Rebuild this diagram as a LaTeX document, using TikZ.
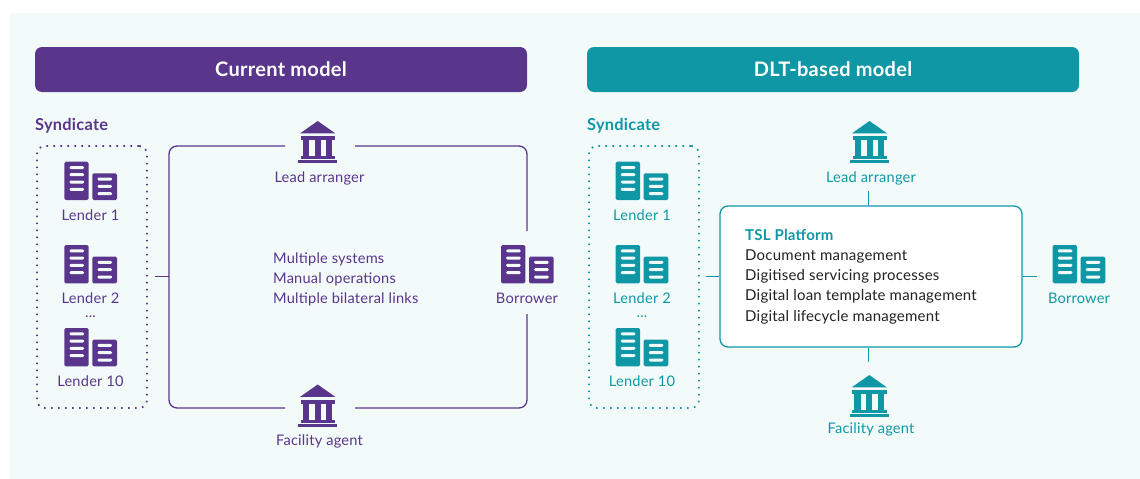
\documentclass[tikz,border=0pt]{standalone}
\usepackage{fontspec}
\setmainfont{Lato}[LetterSpace=1.5]
\definecolor{tslbg}{HTML}{F2FBFA}
\definecolor{tslpurple}{HTML}{5A358C}
\definecolor{tslteal}{HTML}{1097A6}
\definecolor{tslblack}{HTML}{222222}
\tikzset{
    slot/.style={inner sep=0, outer sep=0},
    header/.style={fill=#1, rounded corners=7pt, inner sep=0, minimum width=492, minimum height=45, text=white, font=\fontsize{20}{22}\selectfont\bfseries},
    syndbox/.style={draw=#1, rounded corners=8pt, line width=1.7pt, dash pattern=on 1.7pt off 5.3pt, inner sep=0, minimum width=110, minimum height=262},
    tag/.style={text=#1, inner sep=0, yshift=-1pt, font=\fontsize{14.6}{16}\selectfont},
    synd/.style={text=#1, inner sep=0, anchor=west, yshift=-1pt, font=\fontsize{16.4}{18}\selectfont\bfseries},
    link/.style={draw=#1, line width=1.3pt},
    pics/servers/.style={code={
        \fill[#1, rounded corners=1.5pt] (-26.4,-19) rectangle (-2,19.3);
        \fill[#1, rounded corners=1.5pt] (1.6,-7.4) rectangle (26.3,19.3);
        \fill[tslbg, rounded corners=1.2pt] (-21.2,-14.6) rectangle (-6.7,-11.6);
        \fill[tslbg, rounded corners=1.2pt] (-21.2,-7.5) rectangle (-6.7,-4.5);
        \fill[tslbg, rounded corners=1.2pt] (-21.2,-0.2) rectangle (-6.7,2.8);
        \fill[tslbg, rounded corners=1.2pt] (-21.2,7.1) rectangle (-6.7,10.1);
        \fill[tslbg, rounded corners=1.2pt] (6.8,-3.2) rectangle (21.3,-0.2);
        \fill[tslbg, rounded corners=1.2pt] (6.8,4.1) rectangle (21.3,7.1);
        \fill[tslbg, rounded corners=1.2pt] (6.8,11.5) rectangle (21.3,14.5);
    }},
    pics/bank/.style={code={
        \fill[#1] (0,-21) -- (17.5,-8.7) -- (-17.5,-8.7) -- cycle;
        \fill[#1] (-17,-6) rectangle (17.3,-2);
        \fill[#1] (-15,-2) rectangle (-8.7,14);
        \fill[#1] (-3,-2) rectangle (3,14);
        \fill[#1] (8.7,-2) rectangle (14.6,14);
        \fill[#1] (-17,14) rectangle (17.3,17);
        \fill[#1] (-19.7,18) rectangle (19.3,21);
    }}
}
\begin{document}
\begin{tikzpicture}[x=1pt, y=-1pt]
    \useasboundingbox (0, 0) rectangle (1140, 479);
    \fill[tslbg] (10, 13) rectangle (1140, 479);

    \node[header=tslpurple, text depth=1pt] (currentHead) at (281, 69.5) {Current model};
    \node[header=tslteal, text depth=1pt] (dltHead) at (833, 69.5) {DLT-based model};

    \node[synd=tslpurple] (syndTextL) at (35, 125) {Syndicate};
    \node[synd=tslteal] (syndTextR) at (587, 125) {Syndicate};
    \node[syndbox=tslpurple] (syndL) at (92, 277) {};
    \node[syndbox=tslteal] (syndR) at (644, 277) {};

    \pic at (90.7, 180.7) {servers=tslpurple};
    \node[tag=tslpurple] (lender1L) at (90.5, 214) {Lender 1};
    \pic at (90.7, 264) {servers=tslpurple};
    \node[tag=tslpurple] (lender2L) at (90.5, 297) {Lender 2};
    \node[tag=tslpurple] (dotsL) at (90.5, 316) {...};
    \pic at (90.7, 347) {servers=tslpurple};
    \node[tag=tslpurple] (lender10L) at (90.5, 380) {Lender 10};

    \pic at (642, 180.7) {servers=tslteal};
    \node[tag=tslteal] (lender1R) at (642, 214) {Lender 1};
    \pic at (642, 264) {servers=tslteal};
    \node[tag=tslteal] (lender2R) at (642, 297) {Lender 2};
    \node[tag=tslteal] (dotsR) at (642, 316) {...};
    \pic at (642, 347) {servers=tslteal};
    \node[tag=tslteal] (lender10R) at (642, 380) {Lender 10};

    \node[slot, minimum width=70, minimum height=42] (leadL) at (320, 142) {};
    \pic at (317.7, 142) {bank=tslpurple};
    \node[tag=tslpurple] (leadTextL) at (319.5, 177) {Lead arranger};
    \node[slot, minimum width=70, minimum height=42] (agentL) at (320, 405) {};
    \pic at (317.7, 405.5) {bank=tslpurple};
    \node[tag=tslpurple] (agentTextL) at (319.5, 440) {Facility agent};
    \node[slot, minimum width=60, minimum height=83] (borrowerL) at (527, 272.7) {};
    \pic at (527.4, 264) {servers=tslpurple};
    \node[tag=tslpurple] (borrowerTextL) at (527, 297) {Borrower};

    \node[tag=tslpurple, anchor=west] (systemsText) at (273, 258) {Multiple systems};
    \node[tag=tslpurple, anchor=west] (manualText) at (273, 278) {Manual operations};
    \node[tag=tslpurple, anchor=west] (bilateralText) at (273, 298) {Multiple bilateral links};

    \coordinate (cornerNW) at (169, 146);
    \coordinate (cornerSW) at (169, 408);
    \coordinate (cornerNE) at (527, 146);
    \coordinate (cornerSE) at (527, 408);
    \coordinate (frameW) at (169, 276.5);
    \draw[link=tslpurple, rounded corners=8pt] (leadL.west |- cornerNW) -- (cornerNW) -- (cornerSW) -- (agentL.west |- cornerSW);
    \draw[link=tslpurple, rounded corners=8pt] (leadL.east |- cornerNE) -- (cornerNE) -- (borrowerL.north);
    \draw[link=tslpurple, rounded corners=8pt] (agentL.east |- cornerSE) -- (cornerSE) -- (borrowerL.south);
    \draw[link=tslpurple, shorten <=7pt] (syndL.east |- frameW) -- (frameW);

    \node[draw=tslteal, line width=1.3pt, fill=white, rounded corners=8pt, inner sep=0, minimum width=302, minimum height=141] (tslBox) at (871, 276.5) {};
    \node[synd=tslteal, font=\fontsize{15}{17}\selectfont\bfseries] (tslTitle) at (745, 233.5) {TSL Platform};
    \node[tag=tslblack, anchor=west, font=\fontsize{15}{17}\selectfont] (docText) at (745, 255) {Document management};
    \node[tag=tslblack, anchor=west, font=\fontsize{15}{17}\selectfont] (servicingText) at (745, 275) {Digitised servicing processes};
    \node[tag=tslblack, anchor=west, font=\fontsize{15}{17}\selectfont] (templateText) at (745, 295) {Digital loan template management};
    \node[tag=tslblack, anchor=west, font=\fontsize{15}{17}\selectfont] (lifecycleText) at (745, 316) {Digital lifecycle management};

    \node[slot, minimum width=50, minimum height=70] (leadR) at (868.5, 156) {};
    \pic at (869.5, 142) {bank=tslteal};
    \node[tag=tslteal] (leadTextR) at (871, 177) {Lead arranger};
    \node[slot, minimum width=50, minimum height=70] (agentR) at (868.5, 397) {};
    \pic at (869.3, 396) {bank=tslteal};
    \node[tag=tslteal] (agentTextR) at (871, 428) {Facility agent};
    \node[slot, minimum width=84, minimum height=40] (borrowerR) at (1079, 276) {};
    \pic at (1079, 264) {servers=tslteal};
    \node[tag=tslteal] (borrowerTextR) at (1079, 297) {Borrower};

    \draw[link=tslteal, shorten <=6pt] (syndR.east |- tslBox.west) -- (tslBox.west);
    \draw[link=tslteal] (tslBox.east) -- (borrowerR.west |- tslBox.east);
    \draw[link=tslteal] (leadR.south) -- (leadR.south |- tslBox.north);
    \draw[link=tslteal] (agentR.north) -- (agentR.north |- tslBox.south);
\end{tikzpicture}
\end{document}
